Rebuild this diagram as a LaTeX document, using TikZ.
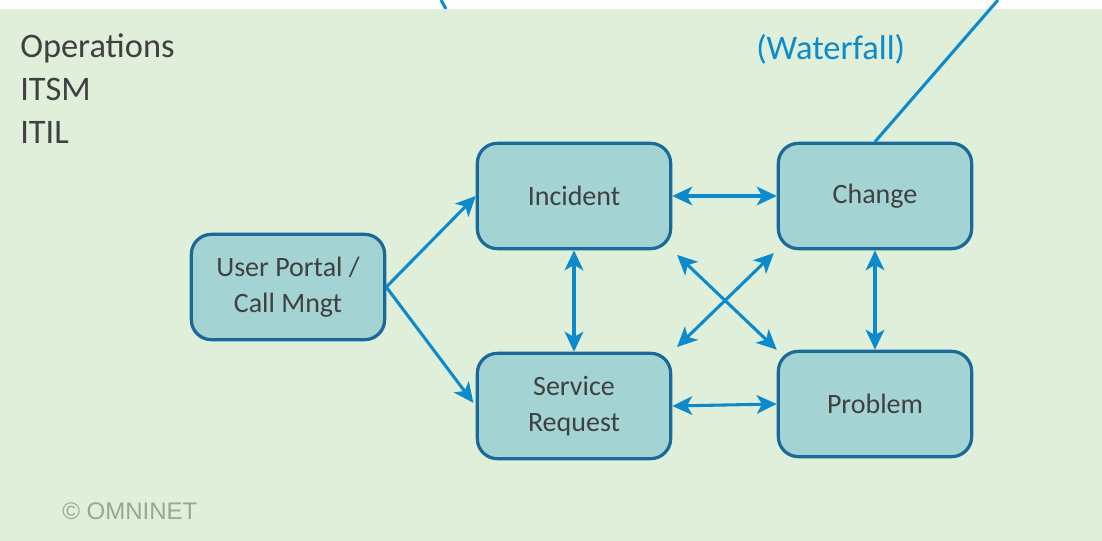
\documentclass[tikz,border=0pt]{standalone}
\usepackage{fontspec}
\setmainfont{Carlito}
\newfontfamily\arialfont{Liberation Sans}
\usetikzlibrary{arrows.meta}

\definecolor{bggreen}{HTML}{DFEFD9}
\definecolor{boxfill}{HTML}{A3D4D3}
\definecolor{boxline}{HTML}{19699A}
\definecolor{linkblue}{HTML}{0C8ACB}
\definecolor{textgray}{HTML}{404040}
\definecolor{markgray}{HTML}{96A98E}

\tikzset{
  box/.style={draw=boxline, fill=boxfill, line width=2.4pt, rounded corners=15pt,
    minimum width=145pt, minimum height=79pt, align=center, text=textgray,
    font=\fontsize{21}{27}\selectfont},
  tip/.tip={Stealth[length=15pt,width=14pt,inset=4pt]},
  link/.style={draw=linkblue, line width=2.3pt, -tip},
  dlink/.style={link, tip-tip},
  heading/.style={anchor=base west, inner sep=0pt, text=textgray, font=\fontsize{25.8}{30}\selectfont}
}

\begin{document}
\begin{tikzpicture}[x=0.75pt,y=0.75pt,yscale=-1,xscale=1]
	\useasboundingbox (0,0) rectangle (1102,541);

	%Straight Lines (stub above the panel)
	\coordinate (stubtop) at (441,0);
	\coordinate (stubend) at (446,9);
	\draw [linkblue, line width=2.3pt] (stubtop) -- (stubend);

	%Shape: Rectangle (panel)
	\fill [bggreen] (0,9) rectangle (1102,541);

	% Text Node
	\node (ops) [heading] at (20,58) {Operations};
	% Text Node
	\node (itsm) [heading] at (20,101) {ITSM};
	% Text Node
	\node (itil) [heading] at (20,144) {ITIL};
	% Text Node
	\node (waterfall) [heading, text=linkblue] at (756,60) {(Waterfall)};
	% Text Node
	\node (omninet) [anchor=base west, inner sep=0pt, text=markgray, font=\arialfont\fontsize{18}{20}\selectfont] at (62,519) {© OMNINET};

	%Shape: Rounded Rect
	\node (portal) [box] at (288,287) {User Portal /\\Call Mngt};
	%Shape: Rounded Rect
	\node (incident) [box] at (574,196) {Incident};
	%Shape: Rounded Rect
	\node (change) [box] at (875,196) {Change};
	%Shape: Rounded Rect
	\node (service) [box] at (574,406) {Service\\Request};
	%Shape: Rounded Rect
	\node (problem) [box] at (875,404) {Problem};

	%Straight Lines
	\draw [link] (portal.east) -- (incident.west);
	\draw [link, shorten >=3pt] (portal.east) -- (service.west);
	%Straight Lines
	\draw [dlink] (incident.east) -- (change.west);
	\draw [dlink] (service.east) -- (problem.west);
	\draw [dlink] (incident.south) -- (service.north);
	\draw [dlink] (change.south) -- (problem.north);
	%Straight Lines (cross)
	\draw [dlink, shorten <=5pt] (incident.south east) -- (problem.north west);
	\draw [dlink, shorten <=5pt, shorten >=3pt] (service.north east) -- (change.south west);
	%Straight Lines (out of the panel)
	\coordinate (outtop) at (998,0);
	\draw [linkblue, line width=2.3pt] (change.north) -- (outtop);
\end{tikzpicture}
\end{document}
